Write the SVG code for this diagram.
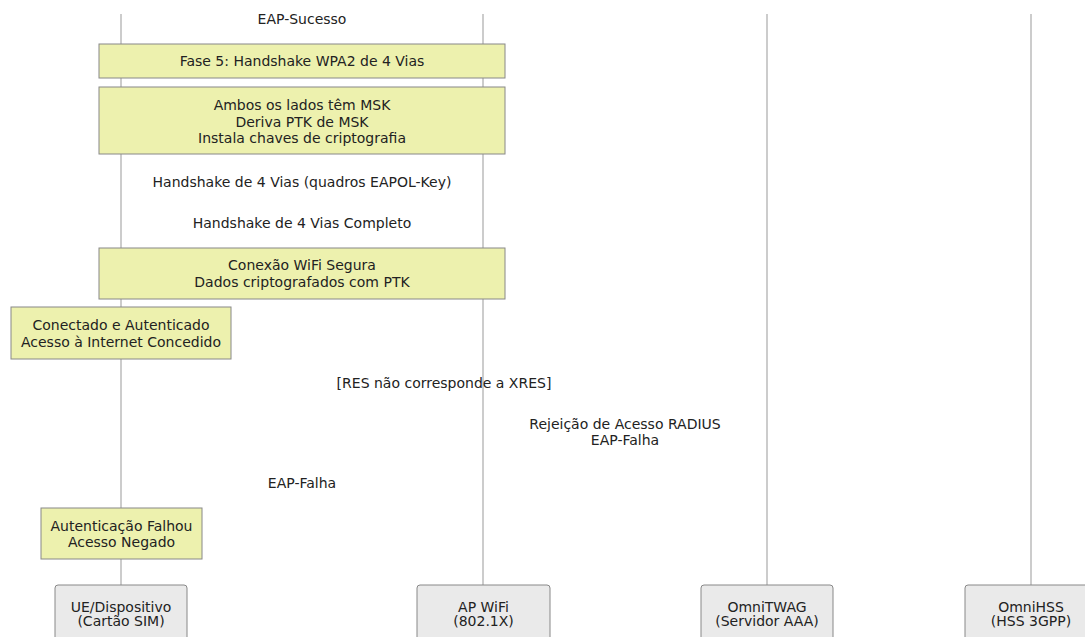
<svg xmlns="http://www.w3.org/2000/svg" width="1085" height="637" viewBox="0 0 1085 637">
<style>
.life{stroke:#999;stroke-width:1;fill:none}
.note{fill:#edf1ae;stroke:#888;stroke-width:1}
.actor{fill:#eaeaea;stroke:#888;stroke-width:1}
text{font-family:"DejaVu Sans","Liberation Sans",sans-serif;fill:#222;text-anchor:middle;dominant-baseline:central}
.msg{font-size:14px}
.nt{font-size:14px}
.at{font-size:14px}
</style>
<rect width="1085" height="637" fill="#fff"/>
<g id="lifelines">
<line class="life" x1="121" y1="14" x2="121" y2="585"/>
<line class="life" x1="483" y1="14" x2="483" y2="585"/>
<line class="life" x1="767" y1="14" x2="767" y2="585"/>
<line class="life" x1="1031" y1="14" x2="1031" y2="585"/>
</g>
<g id="connectors">
<text class="msg" x="302" y="19">EAP-Sucesso</text>
<text class="msg" x="302" y="182">Handshake de 4 Vias (quadros EAPOL-Key)</text>
<text class="msg" x="302" y="223">Handshake de 4 Vias Completo</text>
<text class="msg" x="444" y="383">[RES não corresponde a XRES]</text>
<text class="msg" x="625" y="424">Rejeição de Acesso RADIUS</text>
<text class="msg" x="625" y="440">EAP-Falha</text>
<text class="msg" x="302" y="483">EAP-Falha</text>
</g>
<g id="note-fase5">
<rect class="note" x="99" y="44" width="406" height="34"/>
<text class="nt" x="302" y="61">Fase 5: Handshake WPA2 de 4 Vias</text>
</g>
<g id="note-msk">
<rect class="note" x="99" y="87" width="406" height="67"/>
<text class="nt" x="302" y="104.5">Ambos os lados têm MSK</text>
<text class="nt" x="302" y="121.5">Deriva PTK de MSK</text>
<text class="nt" x="302" y="138">Instala chaves de criptografia</text>
</g>
<g id="note-conexao">
<rect class="note" x="99" y="248" width="406" height="51"/>
<text class="nt" x="302" y="265">Conexão WiFi Segura</text>
<text class="nt" x="302" y="282">Dados criptografados com PTK</text>
</g>
<g id="note-conectado">
<rect class="note" x="11" y="307" width="220" height="52"/>
<text class="nt" x="121" y="325">Conectado e Autenticado</text>
<text class="nt" x="121" y="342">Acesso à Internet Concedido</text>
</g>
<g id="note-falhou">
<rect class="note" x="41" y="508" width="161" height="51"/>
<text class="nt" x="121.5" y="525.5">Autenticação Falhou</text>
<text class="nt" x="121.5" y="542">Acesso Negado</text>
</g>
<g id="actor-ue">
<rect class="actor" x="55" y="585" width="132" height="65" rx="3"/>
<text class="at" x="121" y="607">UE/Dispositivo</text>
<text class="at" x="121" y="621">(Cartão SIM)</text>
</g>
<g id="actor-ap">
<rect class="actor" x="417" y="585" width="133" height="65" rx="3"/>
<text class="at" x="483.5" y="607">AP WiFi</text>
<text class="at" x="483.5" y="621">(802.1X)</text>
</g>
<g id="actor-twag">
<rect class="actor" x="701" y="585" width="132" height="65" rx="3"/>
<text class="at" x="767" y="607">OmniTWAG</text>
<text class="at" x="767" y="621">(Servidor AAA)</text>
</g>
<g id="actor-hss">
<rect class="actor" x="965" y="585" width="132" height="65" rx="3"/>
<text class="at" x="1031" y="607">OmniHSS</text>
<text class="at" x="1031" y="621">(HSS 3GPP)</text>
</g>
</svg>
